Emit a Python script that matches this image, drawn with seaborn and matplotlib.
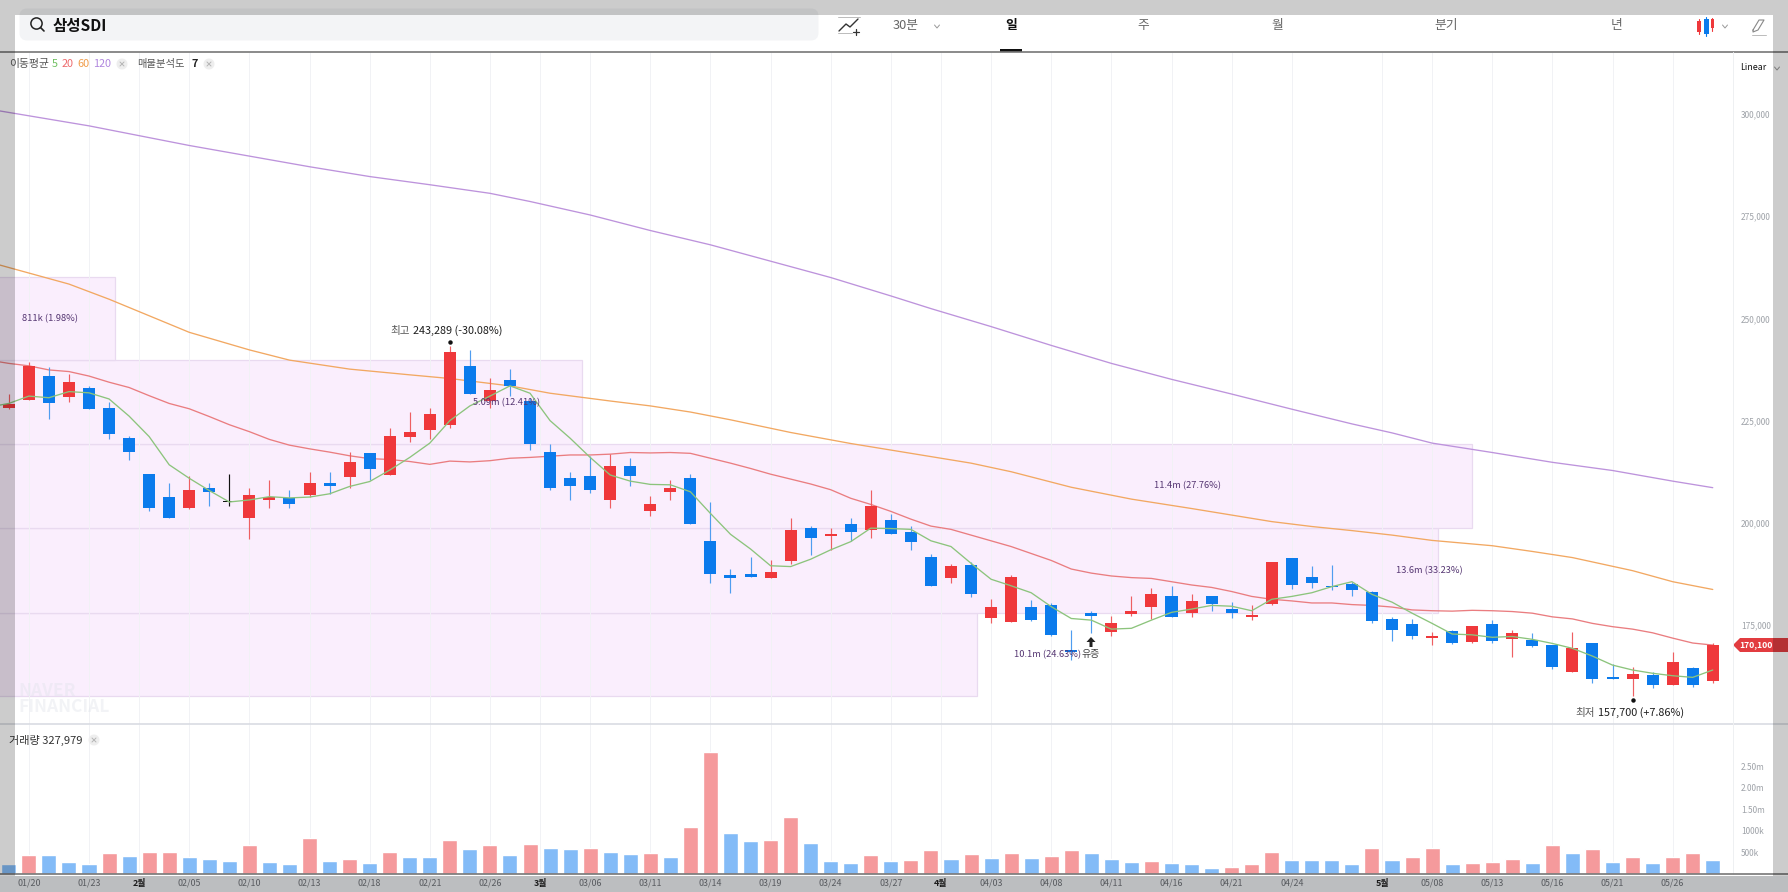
import matplotlib
matplotlib.use("Agg")
import matplotlib.pyplot as plt
from matplotlib.patches import Rectangle, Circle, Polygon, FancyBboxPatch
import numpy as np
import pandas as pd
import seaborn as sns

opens = [228200,230100,235900,230800,232900,228200,220800,212000,206200,203700,
         208500,205000,201200,205600,206100,206700,209700,211100,217000,211600,
         220900,222700,223900,238400,229800,235000,229800,217400,211000,211400,
         205600,214000,202800,207600,211000,195500,187200,187400,186600,190700,
         198700,196800,199700,198300,200600,197700,191600,186500,189700,176700,
         175800,179400,179800,168900,177900,173200,177700,179400,182000,178000,
         182200,178900,177000,180200,191300,186700,184600,185000,183000,176400,
         175300,171900,173600,170800,175300,171500,171400,170000,163500,170500,
         162200,161900,162700,160300,164400,161400]
closes = [229100,238400,229200,234500,227800,221800,217400,203700,201200,208000,
          207600,205000,206700,206300,204600,209700,209000,214800,213100,221300,
          222200,226500,241900,231600,232500,233500,219300,208500,209000,208000,
          214000,211500,204600,208400,199800,187500,186600,186800,187900,198200,
          196400,197200,197800,204100,197300,195200,184600,189500,182700,179400,
          186800,176300,172600,168300,177200,175400,178500,182600,176900,181000,
          180200,177900,177400,190400,184800,185200,184200,183600,176000,173800,
          172200,172200,170500,174800,171000,173000,169900,164800,169300,161700,
          161900,163100,160300,165900,160300,170100]
highs = [231500,239300,238000,236400,233500,229600,221300,212000,209700,211500,
         209700,212000,208500,210500,208000,212400,212400,217300,217000,223100,
         227200,228200,243289,242300,235400,237600,230500,219200,212400,216400,
         216800,215800,206600,210500,212000,205000,188600,191700,190900,201100,
         199300,198700,201200,208000,202100,199300,192400,189900,190400,181300,
         187300,181100,180300,173800,178400,177200,182000,184000,184600,182600,
         182200,180600,179900,190400,191300,189500,189700,185600,183300,176900,
         176400,173400,173800,174800,176300,173800,173000,170000,173200,170700,
         165400,164700,163400,168400,164700,170500]
lows = [227800,230100,225300,229600,227800,220400,215400,202800,201200,203300,
        204200,204200,196000,203700,203700,206300,207100,208500,210500,211600,
        219700,220400,223100,231600,228200,231100,217800,208000,205600,207200,
        203700,209000,201700,205600,199800,185400,182900,186800,186600,189900,
        192100,193400,195500,196400,197300,193400,184600,185400,181800,175600,
        175800,176100,172400,166500,173000,172200,177200,176400,176900,176900,
        178500,176700,176300,179900,183900,184100,183600,182000,175600,171000,
        171500,170100,170400,170500,170700,167300,169700,164200,163500,160800,
        161900,157700,159500,160300,159800,160900]

ma5 = [228300,229200,231000,230600,232100,231800,230300,226100,221100,214200,210900,
       207900,205100,205600,206400,206100,206300,207100,208900,210100,212900,
       216000,219500,225000,228600,231000,233500,231700,225000,220700,216000,
       211700,210200,209400,209300,207600,202300,197200,193600,189500,189300,
       191100,193400,195400,198700,198600,198400,195600,194200,190100,186200,
       184600,182900,179500,176600,176200,174000,174200,176200,178100,178900,
       179800,179600,178500,181300,182000,182900,184400,185600,182500,180600,
       177900,175400,172800,172600,172000,172200,171500,170500,169300,167400,
       165200,164000,163200,162600,162200,164000]
ma20 = [239800,239000,238400,237400,237000,235900,234400,233100,231100,229200,227900,
        226000,224000,222300,220400,219000,218100,217300,216400,215700,215500,
        215000,214300,215100,214900,215200,215800,216000,216300,216600,216600,
        216800,217200,217100,217200,217000,215800,214600,213300,211900,210700,
        209500,208100,206000,204500,202800,200900,199200,198400,197000,195600,
        194200,192500,190800,188700,187700,187000,186600,186400,185600,184800,
        184200,183200,182000,181300,180900,180400,180400,180000,179800,179400,
        178700,178500,178400,178600,178500,178300,177900,177000,176500,175400,
        174600,174000,173100,171800,170600,170100]
ma60_idx = [-1,3,5,9,12,14,17,20,22,25,27,30,32,34,36,39,42,45,48,50,53,56,59,61,63,65,67,69,71,74,76,78,81,83,85]
ma60 = [263800,258400,254700,246600,242300,239800,237600,236200,235300,233500,231700,229800,
        228600,227100,225200,222100,219400,217000,214600,212500,208700,205800,203500,201900,
        200300,199100,198100,197000,195700,194400,193000,191500,188300,185600,183700]
ma120_idx = [-1,4,9,12,15,18,21,24,26,29,32,35,38,41,44,46,49,52,55,58,61,64,67,69,71,74,77,80,83,85]
ma120 = [301200,297100,292300,289700,287100,284700,282700,280600,278600,275300,271500,268000,
         264000,260000,255500,252400,248000,243400,239000,235100,231500,227800,224200,222000,
         219500,217200,214800,212800,210200,208600]

volume_k = [221,438,438,283,244,477,415,523,523,391,345,306,678,283,244,833,306,353,267,500,
            391,391,802,570,678,438,702,593,570,593,523,461,477,391,1089,2833,957,764,787,1337,
            725,291,267,438,306,337,562,345,461,368,477,368,415,547,477,345,283,306,260,236,
            143,174,221,523,329,329,329,236,616,329,391,593,221,260,283,353,260,663,477,570,
            283,391,260,391,477,328]
volume_dir = list("bRbbbRbRRbbbRbbRbRbRbbRbRbRbbRbbRbRRbbRRbbbRb"
                  "RRbRbRbRRbbbRbbbRRRbbbbRbRRbRRRbRbRbRbRRb")

zone_edges = [157640,178020,198730,219210,239710,260130]
zone_right = [48.3,71.3,73.0,28.6,5.3]
zone_label = ["10.1m (24.63%)","13.6m (33.23%)","11.4m (27.76%)","5.09m (12.41%)","811k (1.98%)"]
zone_label_x = [51.8,70.85,58.8,24.85,2.05]

tick_idx = [1,4,6.5,9,12,15,18,21,24,26.5,29,32,35,38,41,44,46.5,49,52,55,58,61,64,68.5,71,74,77,80,83]
tick_lab = ["01/20","01/23","2월","02/05","02/10","02/13","02/18","02/21","02/26","3월","03/06","03/11",
            "03/14","03/19","03/24","03/27","4월","04/03","04/08","04/11","04/16","04/21","04/24","5월",
            "05/08","05/13","05/16","05/21","05/26"]
price_ticks = [175000,200000,225000,250000,275000,300000]
vol_ticks_k = [500,1000,1500,2000,2500]
vol_tick_lab = ["500k","1000k","1.50m","2.00m","2.50m"]

RED, BLUE = "#ef383b", "#0b7bec"
W, H = 1788, 892
PX = 244.6  # won per pixel on the price axis
sns.set_theme(style="white")
plt.rcParams["font.family"] = ["Noto Sans CJK KR", "DejaVu Sans"]
fig = plt.figure(figsize=(W/100, H/100), dpi=100, facecolor="white")

def box(x0, y0, x1, y1):
    return [x0/W, 1-y1/H, (x1-x0)/W, (y1-y0)/H]

# background layer: the band behind the date labels
bg = fig.add_axes([0, 0, 1, 1], zorder=-1)
bg.set_xlim(0, W); bg.set_ylim(H, 0); bg.axis("off")
bg.add_patch(Rectangle((0, 876), W, H-876, fc="#eceef1", ec="none"))

ax = fig.add_axes(box(0, 52, 1733, 724))
axv = fig.add_axes(box(0, 724, 1733, 874))
xlim = (-0.44, 86.01)
ylim = (150794, 315165)

idx = np.arange(len(closes))
for a in (ax, axv):
    a.vlines(tick_idx, 0, 1, transform=a.get_xaxis_transform(), color="#f1f2f5", lw=0.7, zorder=2)

# volume-profile zones
for lo, hi, r, lab, lx in zip(zone_edges[:-1], zone_edges[1:], zone_right, zone_label, zone_label_x):
    ax.barh((lo+hi)/2, r+1, height=hi-lo, left=-1, color="#faeefd", edgecolor="#e9daf0", lw=0.9, zorder=1)
    ax.text(lx, (lo+hi)/2, lab, ha="center", va="center", fontsize=6.7, color="#553672",
            fontweight="medium", zorder=9)

# moving averages
for xs, ys, col, zo in [(ma120_idx, ma120, "#bd93dc", 3), (ma60_idx, ma60, "#f2a862", 3),
                        (np.arange(-1, 86), ma20, "#ea7d80", 3), (np.arange(-1, 86), ma5, "#8cc47c", 7)]:
    sns.lineplot(x=np.asarray(xs, float), y=np.asarray(ys, float), ax=ax, color=col, lw=0.95,
                 zorder=zo, errorbar=None, estimator=None, sort=False)

# candles
for i, o, h, l, c in zip(idx, opens, highs, lows, closes):
    col = BLUE if c < o else RED
    wick = "#4f9df0" if c < o else "#ee5f62"
    if o == c:
        col = wick = "#111111"
    ax.vlines(i, l, h, color=wick, lw=0.85, zorder=4)
    ax.bar(i, max(abs(c-o), 330), bottom=min(o, c), width=0.6, color=col, lw=0, zorder=5)

# volume
vdf = pd.DataFrame({"i": idx, "v": np.array(volume_k)*1000.0, "d": volume_dir})
sns.barplot(data=vdf, x="i", y="v", hue="d", palette={"R": "#f59a9c", "b": "#83bbf7"}, dodge=False,
            native_scale=True, width=0.75, saturation=1, legend=False, ax=axv, zorder=3)

ax.set_xlim(*xlim); ax.set_ylim(*ylim)
axv.set_xlim(*xlim); axv.set_ylim(0, 3488000)
ax.set_xlabel(""); ax.set_ylabel(""); axv.set_xlabel(""); axv.set_ylabel("")
for a in (ax, axv):
    for s in a.spines.values():
        s.set_visible(False)
    a.patch.set_alpha(0)
ax.set_xticks([])
ax.yaxis.tick_right(); axv.yaxis.tick_right()
ax.set_yticks(price_ticks, [f"{p:,}" for p in price_ticks])
axv.set_yticks(np.array(vol_ticks_k)*1000.0, vol_tick_lab)
for a in (ax, axv):
    a.tick_params(axis="y", length=0, pad=5.8, labelsize=6, labelcolor="#9ea2a8")
axv.set_xticks(tick_idx, tick_lab)
axv.tick_params(axis="x", length=0, pad=3.5, labelsize=6.4, labelcolor="#6e7277")
for t in axv.get_xticklabels():
    if "월" in t.get_text():
        t.set_fontweight("bold"); t.set_color("#222222")

# high / low annotations
hi_i, lo_i = int(np.argmax(highs)), int(np.argmin(lows))
for i, v, dot_px, ty, x1, x2, lab1, lab2 in [
        (hi_i, highs[hi_i], 3.9, 10.7, -28.8, -26.6, "최고", "243,289 (-30.08%)"),
        (lo_i, lows[lo_i], -4.2, -12.4, -27.4, -25.2, "최저", "157,700 (+7.86%)")]:
    ax.plot([i], [v + dot_px*PX], "o", color="#111111", ms=3.2, mew=0, zorder=8)
    ax.annotate(lab1, (i, v), xytext=(x1, ty), textcoords="offset points", ha="right", va="center",
                fontsize=7.6, color="#555555", zorder=9)
    ax.annotate(lab2, (i, v), xytext=(x2, ty), textcoords="offset points", ha="left", va="center",
                fontsize=7.8, color="#1d1d1d", fontweight="medium", zorder=9)

# UI layer
ui = fig.add_axes([0, 0, 1, 1], zorder=10)
ui.set_xlim(0, W); ui.set_ylim(H, 0); ui.axis("off"); ui.patch.set_alpha(0)

ui.add_patch(FancyBboxPatch((23, 12), 792, 25, boxstyle="round,pad=0,rounding_size=4", fc="#f3f4f6", ec="#f3f4f6", lw=5))
ui.add_patch(Circle((36.5, 23.5), 5.6, fc="none", ec="#222222", lw=1.1))
ui.plot([40.5, 44], [27.5, 31], color="#222222", lw=1.2)
ui.text(53, 26, "삼성SDI", fontsize=11.2, fontweight="bold", color="#111111", va="center")

# separators
ui.plot([0, W], [52, 52], color="#777777", lw=1.2)
ui.plot([0, W], [724, 724], color="#d6d9e0", lw=1.1)
ui.plot([1733, 1733], [52, 874], color="#eef0f2", lw=0.7)
ui.plot([0, W], [874, 874], color="#777777", lw=1.2)

# toolbar
ui.plot([838, 860], [17, 17], color="#bbbbbb", lw=0.7)
ui.plot([838, 852], [33, 33], color="#bbbbbb", lw=0.7)
ui.plot([839, 846, 850, 858], [31, 24, 27, 19], color="#333333", lw=1.0)
ui.plot([856, 856], [29, 35], color="#333333", lw=0.9)
ui.plot([853, 859], [32, 32], color="#333333", lw=0.9)
for x, lab, kw in [(906, "30분", dict(color="#666666")), (1011, "일", dict(color="#111111", fontweight="bold")),
                   (1143, "주", dict(color="#666666")), (1277, "월", dict(color="#666666")),
                   (1446, "분기", dict(color="#666666")), (1617, "년", dict(color="#666666"))]:
    ui.text(x, 26, lab, fontsize=9.2, ha="center", va="center", **kw)
ui.add_patch(Rectangle((1000, 49), 22, 3, fc="#111111", ec="none"))
for cx in (937, 1725):
    ui.plot([cx-2.5, cx, cx+2.5], [25, 28, 25], color="#999999", lw=0.7)
ui.plot([1777-2.5, 1777, 1777+2.5], [67, 70, 67], color="#999999", lw=0.7)
ui.plot([1699, 1699], [19, 34], color=RED, lw=0.8); ui.add_patch(Rectangle((1697, 21), 4, 11, fc=RED, ec="none"))
ui.plot([1706, 1706], [17, 36], color=BLUE, lw=0.8); ui.add_patch(Rectangle((1703.5, 19), 5, 15, fc=BLUE, ec="none"))
ui.plot([1712, 1712], [18, 31], color=RED, lw=0.8); ui.add_patch(Rectangle((1710.5, 19), 3.5, 9, fc=RED, ec="none"))
ui.plot([1753, 1759, 1764, 1758, 1753, 1753], [30, 20, 20, 30, 32, 30], color="#888888", lw=0.8)
ui.plot([1752, 1766], [35, 35], color="#bbbbbb", lw=0.7)
ui.text(1753, 68, "Linear", fontsize=6.4, ha="center", va="center", color="#111111", fontweight="medium")

# legends
tx = [(9, "이동평균", "#555555", "normal", 7.8), (52, "5", "#6fc060", "normal", 7.8), (62, "20", "#ee6a6c", "normal", 7.8),
      (77, "60", "#f09d4b", "normal", 7.8), (93, "120", "#b087de", "normal", 7.8), (137, "매물분석도", "#555555", "normal", 7.4),
      (191, "7", "#222222", "bold", 7.8), (9, "거래량 327,979", "#333333", "normal", 8)]
for i, (x, s, c, fw, fs) in enumerate(tx):
    ui.text(x, 740 if i == 7 else 64, s, fontsize=fs, color=c, fontweight=fw, va="center")
for cx, cy in [(122, 64), (209, 64), (94, 740)]:
    ui.add_patch(Circle((cx, cy), 5.5, fc="#eeeeee", ec="none"))
    ui.plot([cx-2, cx+2], [cy-2, cy+2], color="#b5b5b5", lw=0.7)
    ui.plot([cx-2, cx+2], [cy+2, cy-2], color="#b5b5b5", lw=0.7)

# watermark
ui.text(18, 699, "NAVER\nFINANCIAL", fontsize=12.5, fontweight="bold", color="#dfe3ea", alpha=0.4,
        va="center", linespacing=0.8)

# rights issue marker
ui.add_patch(Polygon([(1091, 637), (1095.5, 642), (1092.5, 642), (1092.5, 647), (1089.5, 647), (1089.5, 642), (1086.5, 642)],
                     fc="#222222", ec="none"))
ui.text(1091, 654, "유증", fontsize=7.2, ha="center", va="center", color="#444444")

# last price tag
ui.add_patch(Polygon([(1733, 645), (1740, 638), (W, 638), (W, 652), (1740, 652)], fc="#e23c40", ec="none"))
ui.text(1756, 644.5, "170,100", fontsize=6.2, fontweight="bold", ha="center", va="center", color="white")

# modal dim overlay
for x0, y0, x1, y1 in [(0, 0, W, 15), (0, 15, 15, 876), (1773, 15, W, 876), (0, 876, W, H)]:
    ui.add_patch(Rectangle((x0, y0), x1-x0, y1-y0, fc="black", alpha=0.2, ec="none", zorder=20))

fig.savefig("out.png", dpi=100, facecolor="white")
